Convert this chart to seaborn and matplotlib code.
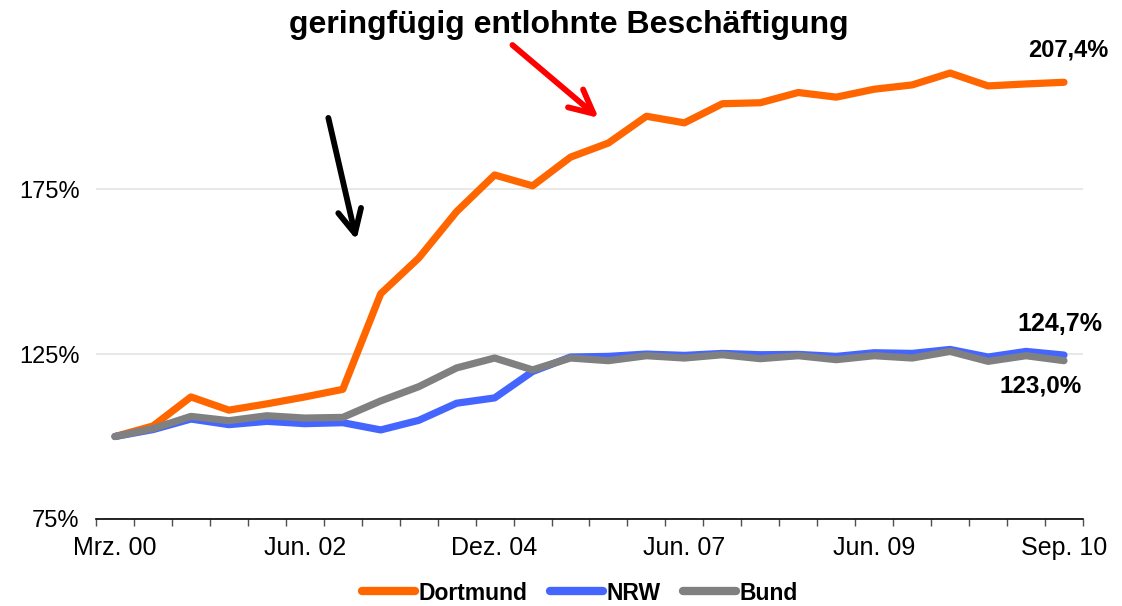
import numpy as np
import pandas as pd
import matplotlib
matplotlib.use("Agg")
import matplotlib.pyplot as plt
from matplotlib.lines import Line2D
import seaborn as sns

# values in % (index 100 = Mrz. 00), one point per period
dortmund = [100.0, 103.2, 112.0, 108.0, 109.9, 112.0, 114.3, 143.3, 154.1, 168.2,
            179.3, 176.0, 184.7, 189.0, 197.1, 195.1, 200.9, 201.2, 204.3, 202.9,
            205.3, 206.6, 210.2, 206.3, 206.9, 207.4]
nrw = [100.0, 102.1, 105.3, 103.6, 104.6, 103.9, 104.2, 102.0, 104.9, 110.1,
       111.7, 119.7, 124.1, 124.3, 125.0, 124.6, 125.2, 124.8, 124.9, 124.3,
       125.4, 125.2, 126.4, 124.1, 125.8, 124.7]
bund = [100.0, 102.4, 106.1, 104.8, 106.3, 105.6, 105.8, 110.8, 115.1, 120.8,
        123.8, 120.2, 123.8, 123.0, 124.5, 123.8, 124.8, 123.6, 124.5, 123.3,
        124.5, 123.8, 125.8, 122.8, 124.5, 123.0]

series_names = ["Dortmund", "NRW", "Bund"]
colors = ["#FF6600", "#4466FF", "#808080"]
tick_pos = [0, 5, 10, 15, 20, 25]
tick_labels = ["Mrz. 00", "Jun. 02", "Dez. 04", "Jun. 07", "Jun. 09", "Sep. 10"]
y_ticks = [75, 125, 175]
title = "geringfügig entlohnte Beschäftigung"

n = len(dortmund)
df = pd.DataFrame({
    "idx": list(range(n)) * 3,
    "wert": dortmund + nrw + bund,
    "reihe": [s for s in series_names for _ in range(n)],
})

sns.set_theme(style="white")
plt.rcParams["font.family"] = ["Liberation Sans", "DejaVu Sans"]
plt.rcParams["text.color"] = "black"
plt.rcParams["xtick.color"] = "black"
plt.rcParams["ytick.color"] = "black"

fig, ax = plt.subplots(figsize=(11.22, 6.06), dpi=100)
fig.subplots_adjust(left=0.0856, right=0.9652, bottom=0.1436, top=0.96)

sns.lineplot(data=df, x="idx", y="wert", hue="reihe", hue_order=series_names,
             palette=colors, linewidth=5.2, sort=False, legend=False, ax=ax)
for line in ax.lines:
    line.set_solid_capstyle("round")
    line.set_solid_joinstyle("round")

ax.set_xlim(-0.5, n - 0.5)
ax.set_ylim(75, 225)
ax.set_xlabel("")
ax.set_ylabel("")

# axes styling
for side in ["left", "top", "right"]:
    ax.spines[side].set_visible(False)
ax.spines["bottom"].set_color("black")
ax.spines["bottom"].set_linewidth(1.2)
ax.yaxis.grid(True, color="#e4e4e4", linewidth=1.2)
ax.set_axisbelow(True)

ax.set_xticks(tick_pos)
ax.set_xticklabels(tick_labels)
ax.set_xticks(np.arange(-0.5, n, 1), minor=True)
ax.tick_params(axis="x", which="major", length=0, pad=12, labelsize=18, labelcolor="black")
ax.tick_params(axis="x", which="minor", bottom=True, length=5, width=1, color="#505050", direction="out")
ax.set_yticks(y_ticks)
ax.set_yticklabels([f"{v}%" for v in y_ticks])
ax.tick_params(axis="y", length=0, pad=12, labelsize=17, labelcolor="black")

# end labels
def fmt(v):
    return f"{v:.1f}%".replace(".", ",")

ax.annotate(fmt(dortmund[-1]), xy=(n - 1, dortmund[-1]), xytext=(3, 23), textcoords="offset points",
            ha="center", va="center", fontsize=17, fontweight="bold", color="black", annotation_clip=False)
ax.annotate(fmt(nrw[-1]), xy=(n - 1, nrw[-1]), xytext=(-3, 22), textcoords="offset points",
            ha="center", va="center", fontsize=18, fontweight="bold", color="black", annotation_clip=False)
ax.annotate(fmt(bund[-1]), xy=(n - 1, bund[-1]), xytext=(-17, -18), textcoords="offset points",
            ha="center", va="center", fontsize=17.5, fontweight="bold", color="black", annotation_clip=False)

# arrows
ax.annotate("", xy=(6.36, 159.6), xytext=(5.62, 196.6),
            arrowprops=dict(arrowstyle="->,head_length=0.85,head_width=0.42", lw=4.2,
                            color="black", mutation_scale=20, shrinkA=0, shrinkB=0))
ax.annotate("", xy=(12.74, 196.6), xytext=(10.47, 218.7),
            arrowprops=dict(arrowstyle="->,head_length=0.85,head_width=0.42", lw=4.2,
                            color="#FF0000", mutation_scale=20, shrinkA=0, shrinkB=0))

fig.text(569 / 1122, 1 - 25 / 606, title, ha="center", va="center", fontsize=23,
         fontweight="bold", color="black")

handles = [Line2D([0], [0], color=c, lw=6, solid_capstyle="round") for c in colors]
leg = fig.legend(handles, series_names, loc="center", bbox_to_anchor=(580 / 1122, 1 - 593 / 606),
                 ncol=3, frameon=False, prop={"weight": "bold", "size": 16.5},
                 handlelength=2.3, handletextpad=0.15, columnspacing=1.0)
for t in leg.get_texts():
    t.set_color("black")

fig.savefig("out.png", dpi=100)
